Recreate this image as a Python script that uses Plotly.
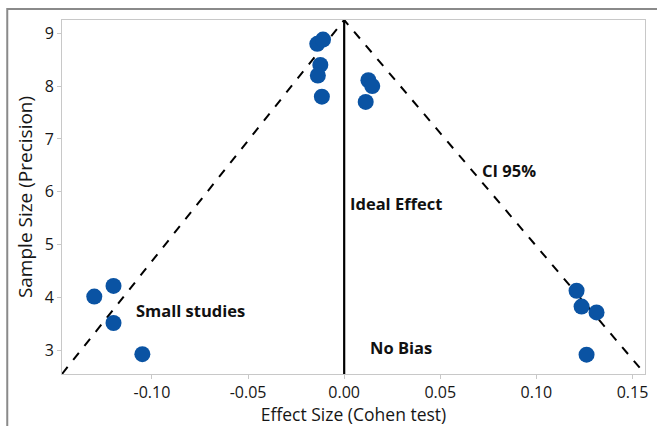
import plotly.graph_objects as go

# Data
effect_size = [-0.130, -0.120, -0.120, -0.105,
               -0.014, -0.011, -0.0124, -0.0137, -0.0116,
               0.0126, 0.0146, 0.0112,
               0.1209, 0.1235, 0.1313, 0.1261]
precision = [4.02, 4.22, 3.52, 2.93,
             8.80, 8.88, 8.40, 8.20, 7.80,
             8.11, 8.00, 7.70,
             4.13, 3.83, 3.72, 2.92]

ci_x = [-0.1468, 0.0, 0.1565]
ci_y = [2.555, 9.25, 2.555]

ideal_x = [0.0, 0.0]
ideal_y = [2.555, 9.25]

x_ticks = [-0.10, -0.05, 0.00, 0.05, 0.10, 0.15]
x_tick_labels = ["-0.10", "-0.05", "0.00", "0.05", "0.10", "0.15"]
y_ticks = [3, 4, 5, 6, 7, 8, 9]

labels = ["Small studies", "Ideal Effect", "CI 95%", "No Bias"]
label_x = [-0.080, 0.002, 0.0855, 0.0298]
label_y = [3.76, 5.78, 6.40, 3.05]
label_anchor = ["center", "left", "center", "center"]

FONT = "Open Sans"
TXT = "#161616"

fig = go.Figure()
fig.add_trace(go.Scatter(x=ci_x, y=ci_y, mode="lines",
                         line=dict(color="black", width=2, dash="dash"),
                         hoverinfo="skip", showlegend=False, cliponaxis=False))
fig.add_trace(go.Scatter(x=ideal_x, y=ideal_y, mode="lines",
                         line=dict(color="black", width=2.2),
                         hoverinfo="skip", showlegend=False))
fig.add_trace(go.Scatter(x=effect_size, y=precision, mode="markers",
                         marker=dict(color="#0a53a3", size=16, line=dict(width=0)),
                         showlegend=False))

for t, x, y, a in zip(labels, label_x, label_y, label_anchor):
    fig.add_annotation(x=x, y=y, text="<b>" + t + "</b>", showarrow=False,
                       xanchor=a, yanchor="middle",
                       font=dict(family=FONT, size=16.5, color="#111111"))

# outer frame
fig.add_shape(type="rect", xref="paper", yref="paper",
              x0=-0.0939, x1=1.03, y0=-0.17, y1=1.031,
              line=dict(color="#8a8a8a", width=2), layer="below")

fig.update_layout(
    width=657, height=426,
    margin=dict(l=62, r=9, t=20, b=50),
    paper_bgcolor="white", plot_bgcolor="white",
    font=dict(family=FONT, size=16, color=TXT),
)
fig.update_xaxes(range=[-0.1468, 0.1565], tickvals=x_ticks, ticktext=x_tick_labels,
                 showgrid=False, zeroline=False,
                 showline=True, linecolor="#c8c8c8", linewidth=1, mirror=True,
                 ticks="outside", ticklen=4, tickcolor="#c8c8c8",
                 tickfont=dict(size=16, color=TXT),
                 title=dict(text="Effect Size (Cohen test)", standoff=2,
                            font=dict(size=17.5, color=TXT)))
fig.update_yaxes(range=[2.555, 9.25], tickvals=y_ticks,
                 showgrid=False, zeroline=False,
                 showline=True, linecolor="#c8c8c8", linewidth=1, mirror=True,
                 ticks="outside", ticklen=4, tickcolor="#c8c8c8",
                 tickfont=dict(size=16, color=TXT),
                 title=dict(text="Sample Size (Precision)", standoff=6,
                            font=dict(size=19, color=TXT)))

fig.write_html("out.html", config={"displayModeBar": False},
               post_script="document.body.style.margin='0';document.body.style.overflow='hidden';")
